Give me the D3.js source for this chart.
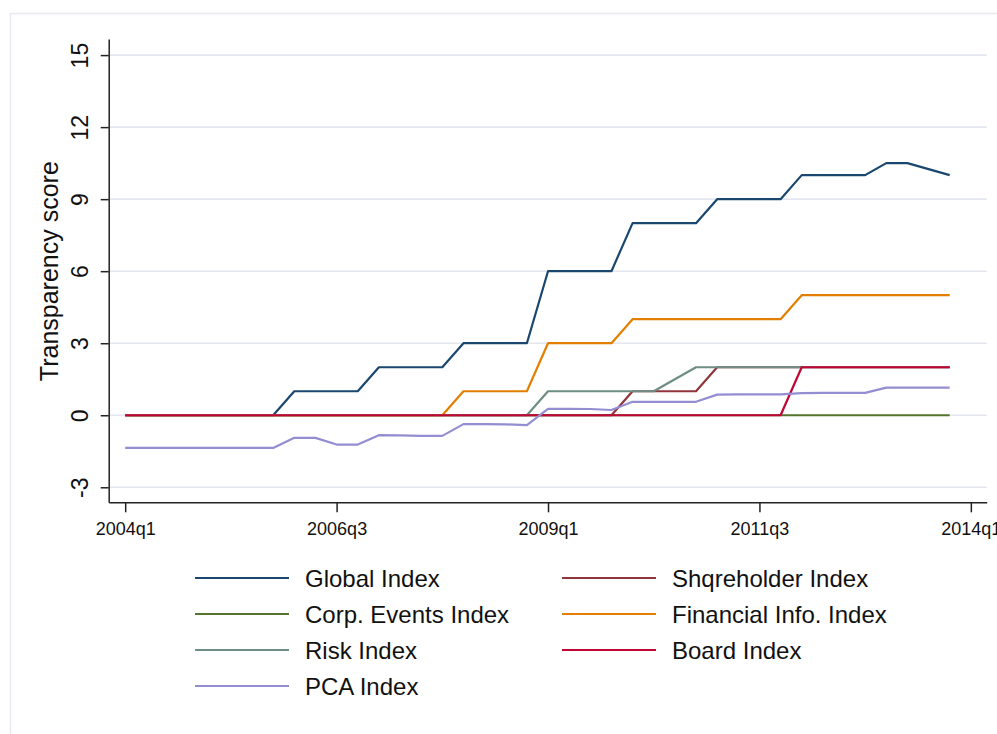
<!DOCTYPE html>
<html>
<head>
<meta charset="utf-8">
<script src="https://cdn.jsdelivr.net/npm/d3@7"></script>
<style>
  body { margin: 0; background: #fff; }
  svg { display: block; font-family: Arial, "Liberation Sans", sans-serif; }
</style>
</head>
<body>
<div id="chart"></div>
<script>
const WIDTH = 997;
const HEIGHT = 734;

// quarters 2004q1 .. 2013q4, index 0..39
const quarters = [
  '2004q1','2004q2','2004q3','2004q4','2005q1','2005q2','2005q3','2005q4',
  '2006q1','2006q2','2006q3','2006q4','2007q1','2007q2','2007q3','2007q4',
  '2008q1','2008q2','2008q3','2008q4','2009q1','2009q2','2009q3','2009q4',
  '2010q1','2010q2','2010q3','2010q4','2011q1','2011q2','2011q3','2011q4',
  '2012q1','2012q2','2012q3','2012q4','2013q1','2013q2','2013q3','2013q4'
];

const xTickIdx = [0, 10, 20, 30, 40];
const xTickLabels = ['2004q1', '2006q3', '2009q1', '2011q3', '2014q1'];
const yTicks = [-3, 0, 3, 6, 9, 12, 15];

const globalIdx = [0,0,0,0,0,0,0,0, 1,1,1,1, 2,2,2,2, 3,3,3,3, 6,6,6,6, 8,8,8,8, 9,9,9,9, 10,10,10,10, 10.5,10.5,10.25,10];
const shareholderIdx = [0,0,0,0,0,0,0,0, 0,0,0,0, 0,0,0,0, 0,0,0,0, 0,0,0,0, 1,1,1,1, 2,2,2,2, 2,2,2,2, 2,2,2,2];
const corpEventsIdx = [0,0,0,0,0,0,0,0, 0,0,0,0, 0,0,0,0, 0,0,0,0, 0,0,0,0, 0,0,0,0, 0,0,0,0, 0,0,0,0, 0,0,0,0];
const financialIdx = [0,0,0,0,0,0,0,0, 0,0,0,0, 0,0,0,0, 1,1,1,1, 3,3,3,3, 4,4,4,4, 4,4,4,4, 5,5,5,5, 5,5,5,5];
const riskIdx = [0,0,0,0,0,0,0,0, 0,0,0,0, 0,0,0,0, 0,0,0,0, 1,1,1,1, 1,1,1.5,2, 2,2,2,2, 2,2,2,2, 2,2,2,2];
const boardIdx = [0,0,0,0,0,0,0,0, 0,0,0,0, 0,0,0,0, 0,0,0,0, 0,0,0,0, 0,0,0,0, 0,0,0,0, 2,2,2,2, 2,2,2,2];
const pcaIdx = [-1.36,-1.36,-1.36,-1.36,-1.36,-1.36,-1.36,-1.36, -0.94,-0.94,-1.22,-1.22, -0.83,-0.84,-0.86,-0.86,
  -0.37,-0.37,-0.38,-0.41, 0.27,0.27,0.26,0.22, 0.56,0.56,0.56,0.56, 0.86,0.87,0.87,0.87, 0.92,0.93,0.93,0.93, 1.15,1.15,1.15,1.15];

const seriesNames = ['Global Index', 'Shqreholder Index', 'Corp. Events Index', 'Financial Info. Index', 'Risk Index', 'Board Index', 'PCA Index'];
const seriesValues = [globalIdx, shareholderIdx, corpEventsIdx, financialIdx, riskIdx, boardIdx, pcaIdx];
const PALETTE = ['#1a476f', '#90353b', '#55752f', '#e37e00', '#6e8e84', '#c10534', '#938dd2'];

var svg = d3.select("#chart").append("svg")
    .attr("width", WIDTH)
    .attr("height", HEIGHT);

// outer frame of graph region
svg.append("rect")
    .attr("x", 10.5)
    .attr("y", 13.5)
    .attr("width", 1100)
    .attr("height", 1000)
    .attr("fill", "#fff")
    .attr("stroke", "#e6e8f2")
    .attr("stroke-width", 1.5);

var xScale = d3.scaleLinear()
    .domain([-0.78, 40.75])
    .range([108.7, 986.7]);

var yScale = d3.scaleLinear()
    .domain([-3.625, 15.67])
    .range([502.3, 39]);

// gridlines
svg.append("g")
    .selectAll("line")
    .data(yTicks)
    .enter()
    .append("line")
        .attr("x1", xScale.range()[0])
        .attr("x2", xScale.range()[1])
        .attr("y1", d => yScale(d))
        .attr("y2", d => yScale(d))
        .attr("stroke", "#e4e7f0")
        .attr("stroke-width", 1.6);

// lines
var line = d3.line()
    .x((d, i) => xScale(i))
    .y(d => yScale(d));

seriesValues.forEach((vals, i) => {
    svg.append("path")
        .datum(vals)
        .attr("fill", "none")
        .attr("stroke", PALETTE[i])
        .attr("stroke-width", 2.2)
        .attr("stroke-linejoin", "round")
        .attr("d", line);
});

// y axis
var yAxis = svg.append("g")
    .attr("transform", `translate(${xScale.range()[0]},0)`)
    .call(d3.axisLeft(yScale).tickValues(yTicks).tickSize(8).tickSizeOuter(0).tickFormat(d => d));
yAxis.select(".domain").attr("stroke", "#222").attr("stroke-width", 1.5);
yAxis.selectAll(".tick line").attr("stroke", "#222").attr("stroke-width", 1.5);
yAxis.selectAll(".tick text")
    .attr("x", 0)
    .attr("y", 0)
    .attr("dy", 0)
    .attr("transform", "translate(-21,0) rotate(-90)")
    .attr("text-anchor", "middle")
    .attr("font-size", "23px")
    .attr("font-family", "Arial, 'Liberation Sans', sans-serif")
    .attr("fill", "#111");

// x axis
var xAxis = svg.append("g")
    .attr("transform", `translate(0,${yScale.range()[0]})`)
    .call(d3.axisBottom(xScale).tickValues(xTickIdx).tickSize(10).tickSizeOuter(0)
        .tickFormat((d, i) => xTickLabels[i]));
xAxis.select(".domain").attr("stroke", "#222").attr("stroke-width", 1.5);
xAxis.selectAll(".tick line").attr("stroke", "#222").attr("stroke-width", 1.5);
xAxis.selectAll(".tick text")
    .attr("y", 33)
    .attr("dy", 0)
    .attr("font-size", "18px")
    .attr("font-family", "Arial, 'Liberation Sans', sans-serif")
    .attr("fill", "#111");

// y title
svg.append("text")
    .attr("transform", `translate(58,${yScale(6)}) rotate(-90)`)
    .attr("text-anchor", "middle")
    .attr("font-size", "25px")
    .attr("fill", "#111")
    .text("Transparency score");

// legend
var legendGroup = svg.append("g")
    .attr("font-size", "24px")
    .attr("fill", "#111");

var legendItems = legendGroup.selectAll("g")
    .data(seriesNames)
    .enter()
    .append("g")
        .attr("transform", (d, i) => `translate(${i % 2 === 0 ? 195 : 562},${578 + Math.floor(i / 2) * 36})`);

legendItems.append("line")
    .attr("x1", 0)
    .attr("x2", 94)
    .attr("stroke", (d, i) => PALETTE[i])
    .attr("stroke-width", 2);

legendItems.append("text")
    .attr("x", 110)
    .attr("y", 8.5)
    .text(d => d);
</script>
</body>
</html>
